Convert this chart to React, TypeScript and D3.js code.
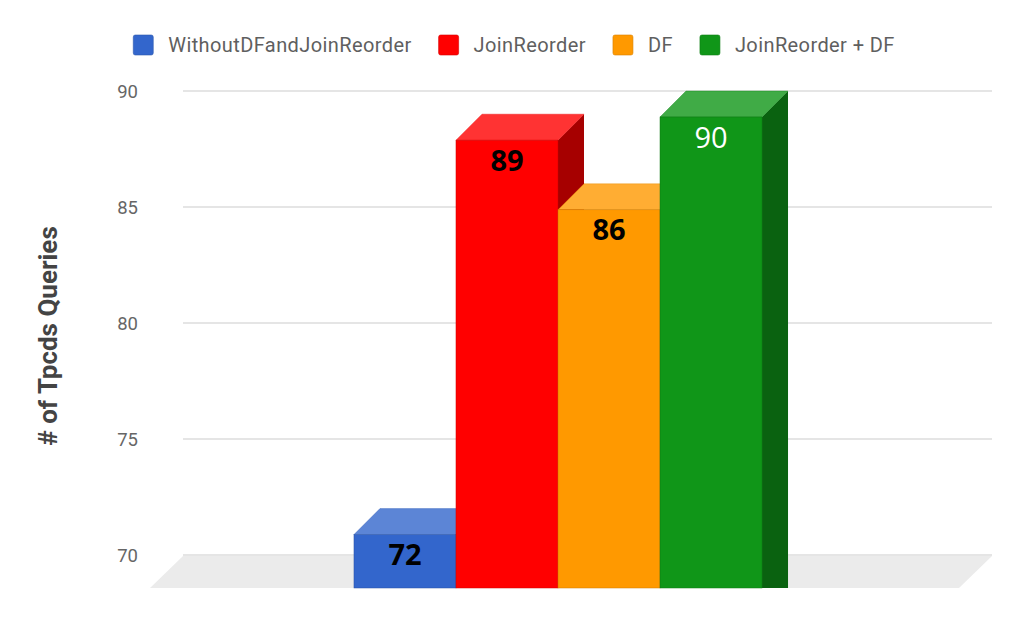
import * as React from 'react';
import * as d3 from 'd3';

const categories = ['Tpcds'];
const seriesNames = ['WithoutDFandJoinReorder', 'JoinReorder', 'DF', 'JoinReorder + DF'];
const seriesValues = [72, 89, 86, 90];
const seriesColors = ['#3366cc', '#ff0000', '#ff9900', '#109618'];
const labelColors = ['#000000', '#000000', '#000000', '#ffffff'];
const labelWeights = ['bold', 'bold', 'bold', 'normal'];
const yTicks = [70, 75, 80, 85, 90];
const yTitle = '# of Tpcds Queries';

const width = 1024, height = 633;
const backLeft = 183, backRight = 992;
const floorDepth = 33, barDepth = 26;
const floorFront = 588;

function shade(c: string, k: number) {
  const rgb = d3.rgb(c);
  return d3.rgb(rgb.r * k, rgb.g * k, rgb.b * k).formatHex();
}

const App = () => {
  const svgRef = React.useRef<SVGSVGElement>(null);

  React.useEffect(() => {
    const svg = d3.select(svgRef.current);
    svg.selectAll('*').remove();

    const y = d3.scaleLinear().domain([70, 90]).range([555, 91]);

    const x0 = d3.scaleBand()
      .domain(categories)
      .range([152, 964])
      .paddingOuter(0.495);

    const x1 = d3.scaleBand()
      .domain(seriesNames)
      .range([0, x0.bandwidth()]);

    // floor
    svg.append('polygon')
      .attr('points', [
        [backLeft - floorDepth, floorFront],
        [backLeft, floorFront - floorDepth + 1],
        [backRight, floorFront - floorDepth + 1],
        [backRight - floorDepth, floorFront],
      ].map(p => p.join(',')).join(' '))
      .attr('fill', '#ebebeb');

    // gridlines
    svg.selectAll('line.grid')
      .data(yTicks)
      .enter()
      .append('line')
      .attr('x1', backLeft)
      .attr('x2', backRight)
      .attr('y1', d => y(d))
      .attr('y2', d => y(d))
      .attr('stroke', '#cccccc')
      .attr('stroke-width', 1.2);

    svg.selectAll('text.tick')
      .data(yTicks)
      .enter()
      .append('text')
      .attr('x', 138)
      .attr('y', d => y(d) + 6.5)
      .attr('text-anchor', 'end')
      .attr('font-family', 'Roboto')
      .attr('font-size', 18.5)
      .attr('fill', '#666666')
      .text(d => `${d}`);

    svg.append('text')
      .attr('transform', 'translate(57, 336) rotate(-90)')
      .attr('text-anchor', 'middle')
      .attr('font-family', 'Roboto')
      .attr('font-weight', 'bold')
      .attr('font-size', 26)
      .attr('fill', '#444444')
      .text(yTitle);

    // bars, drawn left to right so each front face hides the previous side
    const groupX = x0(categories[0]) || 0;
    const bw = x1.bandwidth();
    seriesNames.forEach((name, i) => {
      const v = seriesValues[i];
      const xl = groupX + (x1(name) || 0);
      const xr = xl + bw;
      const top = y(v) + barDepth;
      const col = seriesColors[i];
      const g = svg.append('g');
      // side
      g.append('polygon')
        .attr('points', [
          [xr, top], [xr + barDepth, top - barDepth],
          [xr + barDepth, floorFront], [xr, floorFront],
        ].map(p => p.join(',')).join(' '))
        .attr('fill', shade(col, 0.65));
      // top
      g.append('polygon')
        .attr('points', [
          [xl, top], [xl + barDepth, top - barDepth],
          [xr + barDepth, top - barDepth], [xr, top],
        ].map(p => p.join(',')).join(' '))
        .attr('fill', d3.interpolateRgb(col, '#ffffff')(0.2))
        .attr('stroke', shade(col, 0.9))
        .attr('stroke-width', 0.4);
      // front
      g.append('rect')
        .attr('x', xl)
        .attr('y', top)
        .attr('width', bw)
        .attr('height', floorFront - top)
        .attr('fill', col)
        .attr('stroke', shade(col, 0.8))
        .attr('stroke-width', 0.5);
      g.append('text')
        .attr('x', (xl + xr) / 2)
        .attr('y', top + 30.5)
        .attr('text-anchor', 'middle')
        .attr('font-family', 'Open Sans')
        .attr('font-weight', labelWeights[i])
        .attr('font-size', 29)
        .attr('fill', labelColors[i])
        .text(`${v}`);
    });

    // legend
    const legend = svg.append('g');
    const items = seriesNames.map((name, i) => {
      const it = legend.append('g');
      it.append('rect')
        .attr('x', 0)
        .attr('y', 35)
        .attr('width', 20)
        .attr('height', 20)
        .attr('rx', 2)
        .attr('fill', seriesColors[i])
        .attr('stroke', shade(seriesColors[i], 0.85))
        .attr('stroke-width', 0.6);
      const t = it.append('text')
        .attr('x', 35)
        .attr('y', 52)
        .attr('font-family', 'Roboto')
        .attr('font-size', 20)
        .attr('letter-spacing', 0.4)
        .attr('fill', '#5f5f5f')
        .text(name);
      const tw = (t.node() as SVGTextElement).getComputedTextLength();
      return { it, w: 35 + tw };
    });
    const gap = 27;
    const total = d3.sum(items, d => d.w) + gap * (items.length - 1);
    let cx = width / 2 - total / 2 + 2;
    items.forEach(d => {
      d.it.attr('transform', `translate(${cx},0)`);
      cx += d.w + gap;
    });
  }, []);

  return (
    <div style={{ position: 'absolute', left: 0, top: 0 }}>
      <svg ref={svgRef} width={width} height={height} style={{ display: 'block', background: '#fff' }} />
    </div>
  );
};

export default App;
